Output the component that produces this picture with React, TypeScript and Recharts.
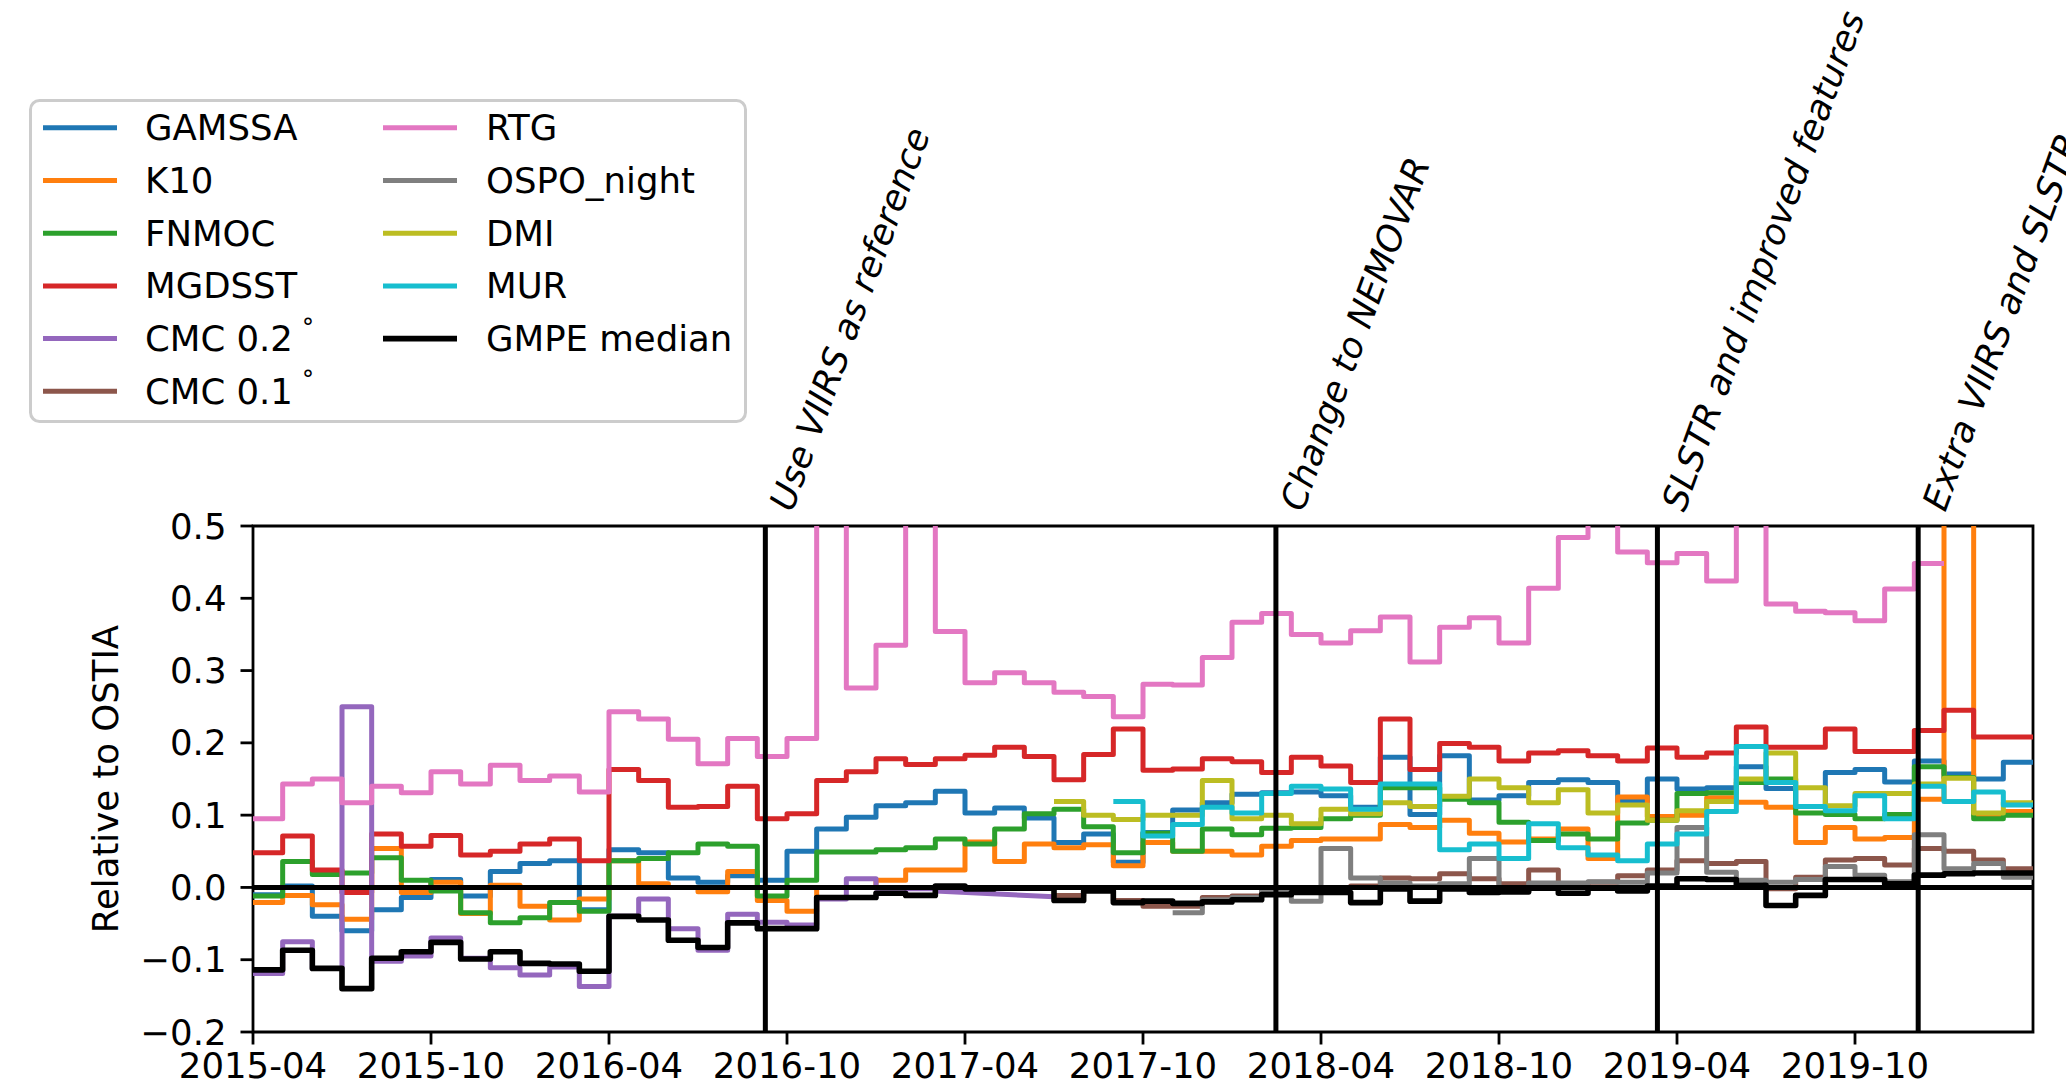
import React from "react";
import {
  LineChart,
  Line,
  XAxis,
  YAxis,
  ReferenceLine,
  ReferenceArea,
  Legend,
} from "recharts";

const FONT = "DejaVu Sans";
const FS = 35.5;
const LW = 5;

// month index: 0 = 2015-04 ... 60 = 2020-04
const monthTicks = [0, 6, 12, 18, 24, 30, 36, 42, 48, 54];
const monthTickLabels = [
  "2015-04", "2015-10", "2016-04", "2016-10", "2017-04",
  "2017-10", "2018-04", "2018-10", "2019-04", "2019-10",
];
const yTicks = [-0.2, -0.1, 0, 0.1, 0.2, 0.3, 0.4, 0.5];

const gamssa = [
  -0.010, 0.002, -0.040, -0.060, -0.031, -0.014, 0.011, -0.012, 0.022, 0.033,
  0.037, -0.031, 0.052, 0.048, 0.013, 0.007, 0.016, 0.010, 0.050, 0.081,
  0.097, 0.113, 0.117, 0.133, 0.103, 0.110, 0.096, 0.062, 0.074, 0.035,
  0.076, 0.107, 0.117, 0.129, 0.131, 0.132, 0.127, 0.111, 0.180, 0.101,
  0.182, 0.121, 0.127, 0.145, 0.149, 0.145, 0.119, 0.150, 0.136, 0.138,
  0.167, 0.137, 0.112, 0.159, 0.163, 0.146, 0.175, 0.157, 0.150, 0.173,
];
const k10 = [
  -0.021, -0.011, -0.024, -0.044, 0.054, -0.007, 0.007, -0.036, 0.003, -0.026,
  -0.045, -0.016, 0.037, 0.005, 0.000, -0.006, 0.022, -0.018, -0.033, 0.000,
  0.000, 0.010, 0.024, 0.024, 0.063, 0.036, 0.060, 0.055, 0.059, 0.030,
  0.062, 0.050, 0.050, 0.045, 0.057, 0.065, 0.067, 0.067, 0.087, 0.083,
  0.093, 0.075, 0.063, 0.067, 0.081, 0.040, 0.125, 0.098, 0.100, 0.124,
  0.118, 0.111, 0.062, 0.083, 0.067, 0.069, 0.122, 0.900, 0.100, 0.105,
];
const fnmoc = [
  -0.012, 0.036, 0.018, 0.020, 0.041, 0.010, -0.005, -0.035, -0.049, -0.042,
  -0.021, -0.033, 0.037, 0.040, 0.048, 0.060, 0.057, -0.012, 0.010, 0.049,
  0.049, 0.052, 0.055, 0.067, 0.060, 0.081, 0.102, 0.108, 0.084, 0.048,
  0.075, 0.050, 0.081, 0.073, 0.082, 0.083, 0.095, 0.100, 0.138, 0.138,
  0.122, 0.117, 0.090, 0.065, 0.074, 0.067, 0.089, 0.093, 0.130, 0.131,
  0.145, 0.150, 0.103, 0.101, 0.095, 0.101, 0.167, 0.152, 0.095, 0.100,
];
const mgdsst = [
  0.048, 0.071, 0.024, -0.007, 0.074, 0.057, 0.072, 0.045, 0.050, 0.060,
  0.067, 0.037, 0.163, 0.148, 0.111, 0.112, 0.140, 0.095, 0.102, 0.148,
  0.160, 0.178, 0.170, 0.178, 0.183, 0.194, 0.181, 0.149, 0.184, 0.219,
  0.162, 0.164, 0.178, 0.174, 0.159, 0.180, 0.168, 0.145, 0.233, 0.163,
  0.199, 0.194, 0.175, 0.186, 0.189, 0.182, 0.175, 0.193, 0.180, 0.186,
  0.222, 0.194, 0.194, 0.219, 0.188, 0.188, 0.217, 0.245, 0.208, 0.208,
];
const cmc02 = [
  -0.119, -0.075, -0.112, 0.250, -0.102, -0.095, -0.070, -0.098, -0.111, -0.121,
  -0.110, -0.137, -0.040, -0.016, -0.057, -0.087, -0.037, -0.048, -0.052, -0.016,
  0.012, -0.001, -0.002,
];
// last stretch of CMC 0.2 is drawn as a straight segment
const cmc02TailMonths = [23, 27];
const cmc02TailValues = [-0.005, -0.013];
const cmc01 = [
  -0.011, -0.002, -0.018, -0.026, -0.026, -0.014, -0.012, -0.002, 0.000, 0.000, 0.002, 0.013, 0.012,
  0.019, 0.012, 0.005, 0.024, 0.001, 0.007, 0.016, 0.024, 0.037, 0.033,
  0.036, -0.002, 0.014, 0.038, 0.040, 0.031, 0.054, 0.050, 0.038, 0.026,
];
const rtg = [
  0.095, 0.143, 0.150, 0.117, 0.140, 0.131, 0.160, 0.143, 0.169, 0.148,
  0.154, 0.132, 0.243, 0.233, 0.205, 0.171, 0.206, 0.181, 0.206, 0.620,
  0.276, 0.335, 0.680, 0.354, 0.283, 0.297, 0.283, 0.270, 0.264, 0.236,
  0.281, 0.280, 0.318, 0.367, 0.379, 0.350, 0.338, 0.355, 0.374, 0.312,
  0.360, 0.373, 0.338, 0.414, 0.484, 0.560, 0.464, 0.449, 0.462, 0.424,
  0.600, 0.392, 0.382, 0.380, 0.369, 0.413, 0.448,
];
const ospoNight = [
  -0.035, -0.017, -0.014, -0.003, -0.019, 0.054, 0.013, 0.006, 0.002,
  0.005, 0.040, -0.007, 0.006, 0.006, 0.008, 0.007, 0.020, 0.083, 0.021,
  0.010, 0.007, 0.011, 0.029, 0.017, 0.008, 0.073, 0.026, 0.033, 0.014,
];
const dmi = [
  0.119, 0.100, 0.094, 0.100, 0.100, 0.148, 0.095, 0.100, 0.088, 0.108, 0.102, 0.117, 0.112,
  0.126, 0.150, 0.138, 0.117, 0.135, 0.103, 0.114, 0.093, 0.106, 0.119,
  0.150, 0.186, 0.138, 0.113, 0.130, 0.130, 0.143, 0.151, 0.103, 0.117,
];
const mur = [
  0.119, 0.071, 0.087, 0.111, 0.103, 0.130, 0.140, 0.136, 0.108, 0.143, 0.143,
  0.052, 0.060, 0.040, 0.088, 0.055, 0.045, 0.037, 0.060, 0.074, 0.105,
  0.195, 0.145, 0.112, 0.106, 0.127, 0.095, 0.140, 0.119, 0.132, 0.114,
];
const gmpeMedian = [
  -0.114, -0.087, -0.112, -0.140, -0.098, -0.089, -0.076, -0.099, -0.089, -0.105,
  -0.106, -0.116, -0.040, -0.045, -0.073, -0.083, -0.049, -0.057, -0.057, -0.014,
  -0.014, -0.008, -0.011, 0.002, -0.002, -0.001, -0.001, -0.018, -0.005, -0.021,
  -0.019, -0.022, -0.020, -0.017, -0.010, -0.007, -0.007, -0.021, -0.002, -0.019,
  -0.002, -0.007, -0.006, -0.001, -0.008, -0.001, -0.005, 0.002, 0.012, 0.011,
  0.003, -0.025, -0.011, 0.011, 0.011, 0.005, 0.017, 0.019, 0.020, 0.020,
];

const eventMonths = [17.27, 34.48, 47.34, 56.13];
const eventLabels = [
  "Use VIIRS as reference",
  "Change to NEMOVAR",
  "SLSTR and improved features",
  "Extra VIIRS and SLSTR",
];

type Series = {
  name: string;
  deg?: boolean;
  color: string;
  start: number;
  values: number[];
  width?: number;
};

const series: Series[] = [
  { name: "GAMSSA", color: "#1f77b4", start: 0, values: gamssa },
  { name: "K10", color: "#ff7f0e", start: 0, values: k10 },
  { name: "FNMOC", color: "#2ca02c", start: 0, values: fnmoc },
  { name: "MGDSST", color: "#d62728", start: 0, values: mgdsst },
  { name: "CMC 0.2", deg: true, color: "#9467bd", start: 0, values: cmc02 },
  { name: "CMC 0.1", deg: true, color: "#8c564b", start: 27, values: cmc01 },
  { name: "RTG", color: "#e377c2", start: 0, values: rtg },
  { name: "OSPO_night", color: "#7f7f7f", start: 31, values: ospoNight },
  { name: "DMI", color: "#bcbd22", start: 27, values: dmi },
  { name: "MUR", color: "#17becf", start: 29, values: mur },
  { name: "GMPE median", color: "#000000", start: 0, values: gmpeMedian, width: 5.6 },
];

// one step per month; repeat the last value so the final month gets its width
const toSteps = (start: number, values: number[]) => [
  ...values.map((v, i) => ({ m: start + i, v })),
  { m: start + values.length, v: values[values.length - 1] },
];

const cmc02Tail = cmc02TailMonths.map((m, i) => ({ m, v: cmc02TailValues[i] }));

const fmtY = (v: number) => (v < 0 ? "\u2212" : "") + Math.abs(v).toFixed(1);
const fmtX = (m: number) => monthTickLabels[monthTicks.indexOf(m)] ?? "";

const EventLabel = (props: any) => {
  const { viewBox, text } = props;
  const x = viewBox.x + 27;
  const y = viewBox.y - 13;
  return (
    <text
      x={x}
      y={y}
      transform={`rotate(-70 ${x} ${y})`}
      fontFamily={FONT}
      fontStyle="italic"
      fontSize={FS}
      fill="#000"
    >
      {text}
    </text>
  );
};

const YLabel = (props: any) => {
  const { viewBox } = props;
  const x = viewBox.x + 105;
  const y = viewBox.y + viewBox.height / 2;
  return (
    <text
      x={x}
      y={y}
      transform={`rotate(-90 ${x} ${y})`}
      textAnchor="middle"
      dominantBaseline="central"
      fontFamily={FONT}
      fontSize={FS}
      fill="#000"
    >
      Relative to OSTIA
    </text>
  );
};

const LEG_W = 718;
const LEG_H = 324;

const LegendBox = () => (
  <svg width={LEG_W} height={LEG_H} style={{ display: "block" }}>
    <rect
      x={1.5}
      y={1.5}
      width={LEG_W - 3}
      height={LEG_H - 3}
      rx={9}
      fill="#fff"
      fillOpacity={0.8}
      stroke="#cccccc"
      strokeWidth={3}
    />
    {series.map((s, i) => {
      const col = i < 6 ? 0 : 1;
      const row = col === 0 ? i : i - 6;
      const cy = 28.8 + row * 52.7;
      const lx = col === 0 ? 14 : 354;
      const tx = col === 0 ? 116 : 457;
      return (
        <g key={s.name}>
          <line
            x1={lx}
            x2={lx + 74}
            y1={cy}
            y2={cy}
            stroke={s.color}
            strokeWidth={s.width ?? LW}
          />
          <text
            x={tx}
            y={cy}
            dominantBaseline="central"
            fontFamily={FONT}
            fontSize={FS}
            fill="#000"
          >
            {s.name}
            {s.deg ? (
              <tspan dx={9} dy={-11} fontSize={24}>
                °
              </tspan>
            ) : null}
          </text>
        </g>
      );
    })}
  </svg>
);

export default function App() {
  return (
    <div style={{ position: "absolute", left: 0, top: 0, fontFamily: FONT }}>
      <LineChart
        width={2066}
        height={1087}
        margin={{ top: 526, right: 33, bottom: 0, left: 0 }}
      >
        <XAxis
          dataKey="m"
          type="number"
          domain={[0, 60]}
          ticks={monthTicks}
          interval={0}
          tickFormatter={fmtX}
          allowDataOverflow
          axisLine={false}
          tickLine={{ stroke: "#000", strokeWidth: 2.8 }}
          tickSize={12.5}
          tickMargin={8}
          height={55}
          tick={{ fontSize: FS, fill: "#000", fontFamily: FONT }}
        />
        <YAxis
          type="number"
          domain={[-0.2, 0.5]}
          ticks={yTicks}
          interval={0}
          tickFormatter={fmtY}
          allowDataOverflow
          axisLine={false}
          tickLine={{ stroke: "#000", strokeWidth: 2.8 }}
          tickSize={12.5}
          tickMargin={14}
          width={253}
          tick={{ fontSize: FS, fill: "#000", fontFamily: FONT }}
          label={<YLabel />}
        />
        <Legend
          layout="horizontal"
          verticalAlign="middle"
          align="center"
          content={() => <LegendBox />}
          wrapperStyle={{ left: 29, top: 99, width: LEG_W, height: LEG_H }}
        />
        {series.map((s) => (
          <React.Fragment key={s.name}>
            <Line
              data={toSteps(s.start, s.values)}
              dataKey="v"
              type="stepAfter"
              stroke={s.color}
              strokeWidth={s.width ?? LW}
              strokeLinejoin="round"
              dot={false}
              activeDot={false}
              isAnimationActive={false}
            />
            {s.name === "CMC 0.2" ? (
              <Line
                data={cmc02Tail}
                dataKey="v"
                type="linear"
                stroke={s.color}
                strokeWidth={LW}
                dot={false}
                activeDot={false}
                isAnimationActive={false}
              />
            ) : null}
          </React.Fragment>
        ))}
        <ReferenceLine y={0} stroke="#000" strokeWidth={5} />
        {eventMonths.map((m, i) => (
          <ReferenceLine
            key={m}
            x={m}
            stroke="#000"
            strokeWidth={5}
            label={<EventLabel text={eventLabels[i]} />}
          />
        ))}
        <ReferenceArea
          x1={0}
          x2={60}
          y1={-0.2}
          y2={0.5}
          fill="none"
          stroke="#000"
          strokeWidth={2.8}
        />
      </LineChart>
    </div>
  );
}
